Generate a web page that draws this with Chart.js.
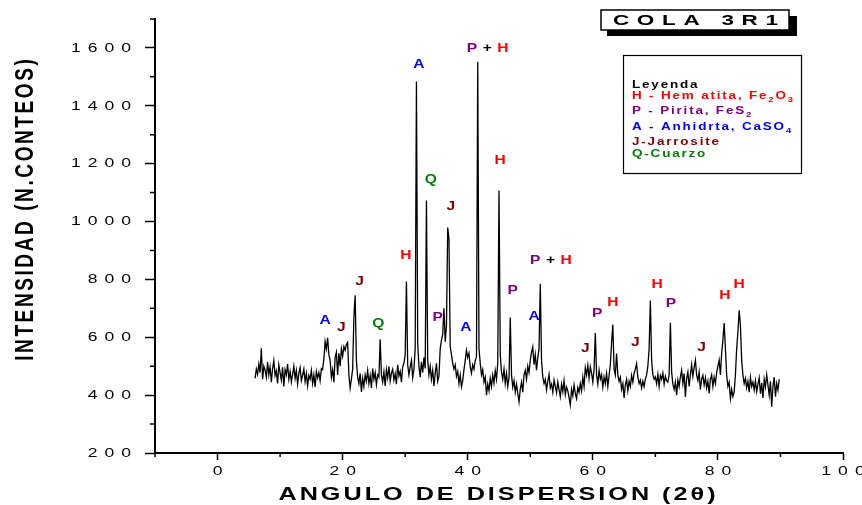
<!DOCTYPE html>
<html>
<head>
<meta charset="utf-8">
<script src="https://cdn.jsdelivr.net/npm/chart.js@4/dist/chart.umd.min.js"></script>
<style>
  html, body { margin: 0; padding: 0; background: #fff; }
  #wrap { width: 862px; height: 505px; }
</style>
</head>
<body>
<div id="wrap"><canvas id="xrd" width="862" height="505"></canvas></div>
<script>
// XRD pattern "COLA 3R1" - 2theta scan, 0.2 deg step
const scanStart = 6.0;
const scanStep = 0.2;

// intensity counts, one row = 2 degrees (10 steps)
const counts = [
  458, 490, 472, 508, 478, 562, 455, 500, 486, 462,   // 6
  515, 470, 498, 445, 492, 520, 468, 484, 440, 505,   // 8
  478, 452, 496, 430, 488, 470, 507, 455, 482, 446,   // 10
  472, 500, 458, 485, 438, 476, 495, 450, 468, 490,   // 12
  447, 475, 432, 468, 455, 486, 440, 470, 428, 482,   // 14
  460, 478, 450, 492, 488, 525, 585, 560, 598, 540,   // 16
  520, 462, 488, 445, 530, 548, 470, 545, 500, 560,   // 18
  535, 568, 555, 575, 582, 470, 424, 455, 490, 670,   // 20
  745, 520, 462, 440, 475, 411, 458, 430, 470, 448,   // 22
  485, 440, 468, 425, 492, 455, 478, 436, 470, 462,   // 24
  593, 470, 445, 480, 432, 488, 460, 500, 448, 476,   // 26
  490, 452, 474, 438, 505, 466, 482, 445, 498, 510,   // 28
  540, 793, 505, 470, 498, 520, 460, 490, 560, 1484,  // 30
  580, 500, 462, 515, 478, 530, 492, 1073, 520, 470,  // 32
  500, 455, 486, 432, 475, 510, 448, 466, 560, 590,   // 34
  610, 700, 585, 640, 979, 940, 567, 540, 510, 490,   // 36
  505, 465, 482, 440, 470, 429, 450, 488, 520, 555,   // 38
  530, 545, 498, 476, 505, 490, 520, 532, 1552, 560,  // 40
  510, 470, 488, 445, 462, 400, 438, 415, 458, 430,   // 42
  470, 442, 485, 455, 510, 1107, 540, 480, 455, 490,  // 44
  440, 475, 430, 460, 668, 470, 428, 450, 410, 438,   // 46
  405, 377, 420, 445, 410, 470, 486, 455, 500, 478,   // 48
  520, 548, 567, 505, 540, 486, 530, 560, 785, 520,   // 50
  463, 440, 455, 418, 448, 472, 425, 438, 410, 452,   // 52
  430, 408, 445, 420, 395, 438, 412, 450, 402, 428,   // 54
  415, 392, 366, 420, 398, 435, 405, 388, 426, 410,   // 56
  440, 415, 462, 430, 495, 470, 503, 458, 498, 475,   // 58
  445, 490, 615, 470, 438, 486, 455, 470, 428, 462,   // 60
  440, 475, 430, 468, 505, 580, 644, 490, 470, 544,   // 62
  470, 448, 462, 420, 440, 390, 435, 455, 415, 448,   // 64
  430, 468, 445, 475, 490, 509, 462, 440, 452, 425,   // 66
  448, 430, 455, 470, 500, 560, 727, 520, 470, 455,   // 68
  463, 440, 472, 430, 468, 455, 476, 438, 465, 450,   // 70
  445, 470, 650, 480, 438, 420, 445, 400, 452, 430,   // 72
  462, 486, 440, 475, 394, 458, 480, 430, 470, 505,   // 74
  465, 495, 521, 470, 450, 480, 420, 455, 468, 435,   // 76
  460, 425, 448, 406, 455, 470, 430, 462, 440, 478,   // 78
  500, 521, 470, 545, 590, 649, 560, 470, 430, 445,   // 80
  388, 420, 395, 410, 470, 560, 620, 693, 640, 520,   // 82
  470, 440, 458, 425, 448, 410, 462, 430, 445, 418,   // 84
  450, 412, 438, 460, 405, 442, 390, 455, 428, 470,   // 86
  435, 400, 448, 360, 430, 462, 395, 440, 418, 455    // 88
];

// axis ticks
const xMajorTicks = [0, 20, 40, 60, 80, 100];
const xMinorTicks = [-10, 10, 30, 50, 70, 90];
const yMajorTicks = [200, 400, 600, 800, 1000, 1200, 1400, 1600];
const yMinorTicks = [300, 500, 700, 900, 1100, 1300, 1500, 1700];

// phase labels over the peaks (2theta, counts)
const peakLabels = [
  { x: 17.2, y: 659, text: 'A' },
  { x: 19.8, y: 634, text: 'J' },
  { x: 22.7, y: 793, text: 'J' },
  { x: 25.7, y: 648, text: 'Q' },
  { x: 30.1, y: 883, text: 'H' },
  { x: 32.2, y: 1541, text: 'A' },
  { x: 34.1, y: 1145, text: 'Q' },
  { x: 35.2, y: 669, text: 'P' },
  { x: 37.3, y: 1052, text: 'J' },
  { x: 39.7, y: 634, text: 'A' },
  { x: 43.2, y: 1597, text: 'P+H' },
  { x: 45.2, y: 1210, text: 'H' },
  { x: 47.2, y: 762, text: 'P' },
  { x: 50.6, y: 672, text: 'A' },
  { x: 53.3, y: 866, text: 'P+H' },
  { x: 58.8, y: 561, text: 'J' },
  { x: 60.7, y: 682, text: 'P' },
  { x: 63.2, y: 720, text: 'H' },
  { x: 66.8, y: 582, text: 'J' },
  { x: 70.3, y: 782, text: 'H' },
  { x: 72.5, y: 716, text: 'P' },
  { x: 77.4, y: 564, text: 'J' },
  { x: 81.1, y: 745, text: 'H' },
  { x: 83.4, y: 782, text: 'H' }
];

const phaseColors = {
  H: '#ff0000',
  P: '#800080',
  A: '#0000ff',
  J: '#800000',
  Q: '#008000',
  '+': '#000000'
};

// legend entries: [text, subscript] pieces
const legendRows = [
  { color: '#000000', parts: [['Leyenda', false]] },
  { color: phaseColors.H, parts: [['H - Hem atita, Fe', false], ['2', true], ['O', false], ['3', true]] },
  { color: phaseColors.P, parts: [['P - Pirita, FeS', false], ['2', true]] },
  { color: phaseColors.A, parts: [['A - Anhidrta, CaSO', false], ['4', true]] },
  { color: phaseColors.J, parts: [['J-Jarrosite', false]] },
  { color: phaseColors.Q, parts: [['Q-Cuarzo', false]] }
];

const FONT = '"Liberation Sans", Arial, sans-serif';

// draw text char by char with extra spacing and horizontal stretch
function spacedText(ctx, text, x, y, o) {
  ctx.save();
  ctx.font = o.font;
  ctx.textBaseline = o.baseline || 'middle';
  ctx.textAlign = 'left';
  const sp = o.spacing || 0;
  const sx = o.sx || 1;
  const chars = [...text];
  const widths = chars.map(c => ctx.measureText(c).width * sx);
  const total = widths.reduce((a, b) => a + b, 0) + sp * (chars.length - 1);
  let cx = x;
  if (o.align === 'center') cx = x - total / 2;
  if (o.align === 'right') cx = x - total;
  chars.forEach((c, i) => {
    ctx.fillStyle = o.colorFn ? o.colorFn(c) : (o.color || '#000');
    ctx.save();
    ctx.translate(cx, y);
    ctx.scale(sx, 1);
    ctx.fillText(c, 0, 0);
    ctx.restore();
    cx += widths[i] + sp;
  });
  ctx.restore();
  return total + sp;
}

const decorPlugin = {
  id: 'decor',
  afterDraw(chart) {
    const ctx = chart.ctx;
    const xs = chart.scales.x;
    const ys = chart.scales.y;
    const area = chart.chartArea;

    // minor ticks
    ctx.save();
    ctx.strokeStyle = '#000';
    ctx.lineWidth = 1.5;
    ctx.beginPath();
    xMinorTicks.forEach(v => {
      const px = xs.getPixelForValue(v);
      ctx.moveTo(px, area.bottom);
      ctx.lineTo(px, area.bottom + 4);
    });
    yMinorTicks.forEach(v => {
      const py = ys.getPixelForValue(v);
      ctx.moveTo(area.left - 5, py);
      ctx.lineTo(area.left, py);
    });
    ctx.stroke();
    ctx.restore();

    // tick labels
    const tickFont = '13.5px ' + FONT;
    ys.ticks.forEach(t => {
      spacedText(ctx, String(t.value), area.left - 24, ys.getPixelForValue(t.value),
        { font: tickFont, spacing: 7, sx: 1.3, align: 'right' });
    });
    xs.ticks.forEach(t => {
      spacedText(ctx, String(t.value), xs.getPixelForValue(t.value), area.bottom + 18,
        { font: tickFont, spacing: 7, sx: 1.3, align: 'center' });
    });

    // axis titles
    spacedText(ctx, 'ANGULO DE DISPERSION (2\u03b8)', 497, 495,
      { font: 'bold 18px ' + FONT, spacing: 3, sx: 1.4, align: 'center' });
    ctx.save();
    ctx.translate(26, 210);
    ctx.rotate(-Math.PI / 2);
    ctx.scale(1, 1.4);
    spacedText(ctx, 'INTENSIDAD (N.CONTEOS)', 0, 0,
      { font: 'bold 19px ' + FONT, spacing: 2.6, sx: 1, align: 'center' });
    ctx.restore();

    // title box with shadow
    ctx.save();
    ctx.fillStyle = '#000';
    ctx.fillRect(607, 16, 190, 20);
    ctx.fillStyle = '#fff';
    ctx.fillRect(601, 10, 188, 20);
    ctx.strokeStyle = '#000';
    ctx.lineWidth = 1.5;
    ctx.strokeRect(601, 10, 188, 20);
    ctx.restore();
    spacedText(ctx, 'COLA 3R1', 695.5, 21,
      { font: 'bold 15px ' + FONT, spacing: 7.7, sx: 1.5, align: 'center' });

    // legend box
    ctx.save();
    ctx.fillStyle = '#fff';
    ctx.fillRect(623, 55, 178, 118);
    ctx.strokeStyle = '#000';
    ctx.lineWidth = 1.2;
    ctx.strokeRect(623.5, 55.5, 178, 118);
    ctx.restore();
    const rowBase = [87.5, 99, 114, 130, 145, 157];
    legendRows.forEach((row, i) => {
      let x = 632;
      row.parts.forEach(([txt, sub]) => {
        x += spacedText(ctx, txt, x, rowBase[i] + (sub ? 3 : 0), {
          font: 'bold ' + (sub ? 7 : 10) + 'px ' + FONT,
          spacing: 1.8, sx: 1.35, color: row.color, baseline: 'alphabetic'
        });
      });
    });

    // peak labels
    peakLabels.forEach(l => {
      spacedText(ctx, l.text, xs.getPixelForValue(l.x), ys.getPixelForValue(l.y), {
        font: 'bold 12px ' + FONT,
        spacing: l.text.length > 1 ? 5.5 : 0,
        sx: 1.3, align: 'center',
        colorFn: c => phaseColors[c]
      });
    });
  }
};

const points = counts.map((c, i) => ({ x: +(scanStart + i * scanStep).toFixed(2), y: c }));

new Chart(document.getElementById('xrd'), {
  type: 'line',
  data: {
    datasets: [{
      data: points,
      borderColor: '#000',
      borderWidth: 1.3,
      pointRadius: 0,
      tension: 0,
      fill: false
    }]
  },
  options: {
    responsive: false,
    animation: false,
    layout: { padding: { left: 145, right: 19, top: 19, bottom: 45 } },
    plugins: {
      legend: { display: false },
      tooltip: { enabled: false }
    },
    scales: {
      x: {
        type: 'linear',
        min: -10,
        max: 100,
        afterBuildTicks: s => { s.ticks = xMajorTicks.map(v => ({ value: v })); },
        grid: { drawOnChartArea: false, drawTicks: true, tickLength: 7, tickWidth: 1.5, tickColor: '#000' },
        border: { display: true, color: '#000', width: 2 },
        ticks: { display: false }
      },
      y: {
        type: 'linear',
        min: 200,
        max: 1700,
        afterBuildTicks: s => { s.ticks = yMajorTicks.map(v => ({ value: v })); },
        grid: { drawOnChartArea: false, drawTicks: true, tickLength: 10, tickWidth: 1.5, tickColor: '#000' },
        border: { display: true, color: '#000', width: 2 },
        ticks: { display: false }
      }
    }
  },
  plugins: [decorPlugin]
});
</script>
</body>
</html>
